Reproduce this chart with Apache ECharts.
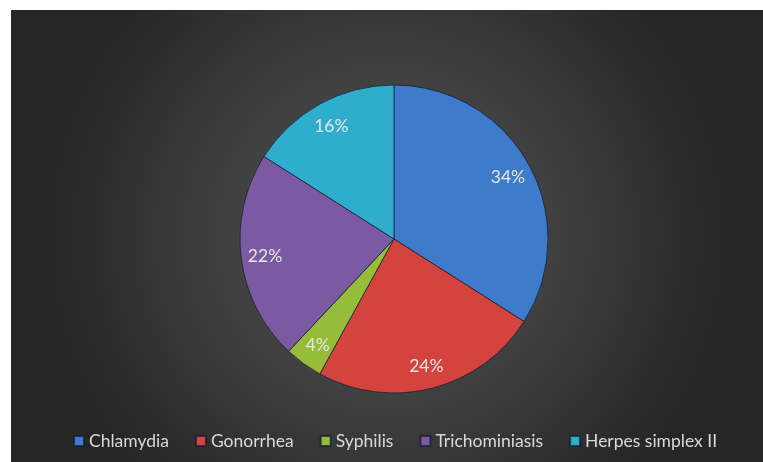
<!DOCTYPE html>
<html>
<head>
<meta charset="utf-8">
<script src="https://cdn.jsdelivr.net/npm/echarts@6/dist/echarts.min.js"></script>
<style>
  html, body { margin: 0; padding: 0; background: #fff; }
  #chart { width: 763px; height: 462px; }
</style>
</head>
<body>
<div id="chart"></div>
<script>
// data
const diseases = ['Chlamydia', 'Gonorrhea', 'Syphilis', 'Trichominiasis', 'Herpes simplex II'];
const shares = [34, 24, 4, 22, 16];
const sliceColors = ['#3e7bca', '#d4433e', '#95bd3a', '#7c5aa3', '#2eadcc'];

const chart = echarts.init(document.getElementById('chart'));

const pieData = diseases.map((name, i) => ({
  name,
  value: shares[i],
  itemStyle: { color: sliceColors[i] }
}));

const option = {
  backgroundColor: '#ffffff',
  graphic: [{
    type: 'rect',
    silent: true,
    z: -10,
    shape: { x: 11, y: 10, width: 752, height: 452 },
    style: {
      fill: {
        type: 'radial', x: 0.5, y: 0.5, r: 0.75,
        colorStops: [
          { offset: 0, color: '#585858' },
          { offset: 1, color: '#262626' }
        ]
      }
    }
  }],
  legend: {
    data: diseases,
    left: 68,
    top: 427,
    icon: 'rect',
    itemWidth: 10,
    itemHeight: 10,
    itemGap: 26,
    textStyle: { color: '#d9d9d9', fontSize: 17.5, fontFamily: 'Lato' }
  },
  series: [
    {
      name: 'slices',
      type: 'pie',
      center: [394, 239],
      radius: [0, 154],
      startAngle: 90,
      clockwise: true,
      silent: true,
      label: { show: false },
      labelLine: { show: false },
      itemStyle: { borderColor: 'rgba(20,30,50,0.75)', borderWidth: 1 },
      data: pieData
    },
    {
      // transparent ring used only to place the labels near the rim
      name: 'labels',
      type: 'pie',
      center: [394, 240],
      radius: [98, 156],
      startAngle: 90,
      clockwise: true,
      silent: true,
      itemStyle: { color: 'rgba(0,0,0,0)' },
      label: {
        show: true,
        position: 'inside',
        formatter: p => p.value + '%',
        color: '#e6e6e6',
        fontSize: 17.5,
        fontFamily: 'Lato'
      },
      labelLine: { show: false },
      data: diseases.map((name, i) => ({ name, value: shares[i] }))
    }
  ]
};

chart.setOption(option);
</script>
</body>
</html>
